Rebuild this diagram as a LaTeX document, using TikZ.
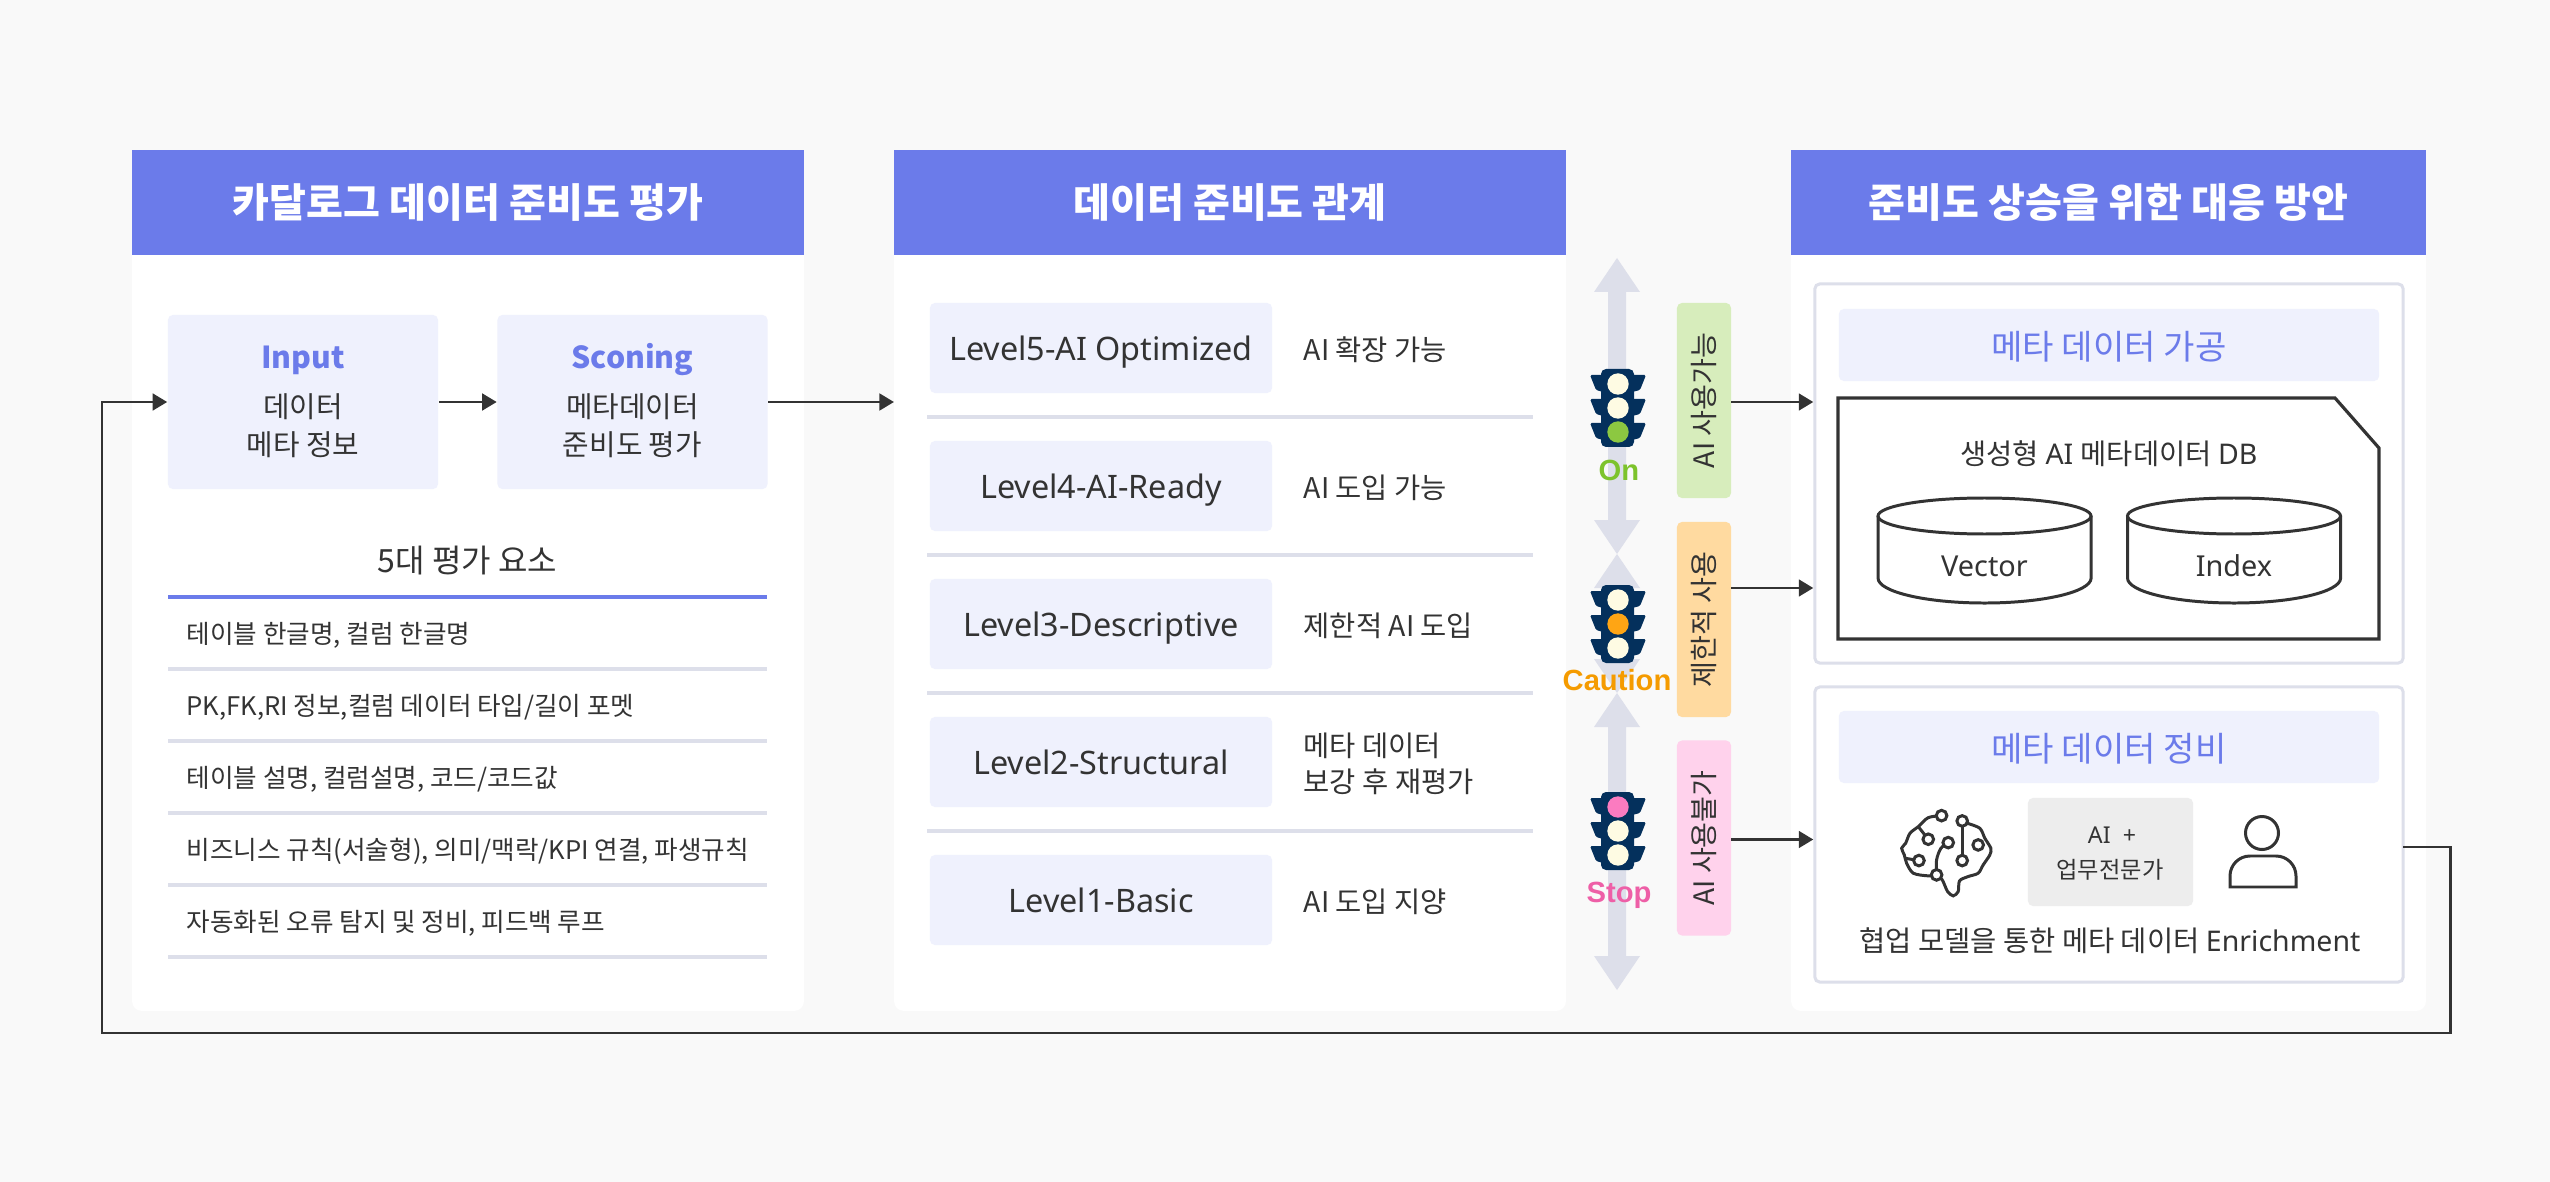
\documentclass[tikz,border=0pt]{standalone}
\usepackage{fontspec}
\setmainfont{Noto Sans CJK KR}
\newfontfamily\latfont{Noto Sans}
\newfontfamily\signfont{Liberation Sans}
\usetikzlibrary{arrows.meta}
\definecolor{pagebg}{HTML}{F9F9F9}
\definecolor{headblue}{HTML}{6B7BEA}
\definecolor{softblue}{HTML}{EFF1FD}
\definecolor{bargray}{HTML}{DDDFEA}
\definecolor{inkgray}{HTML}{333333}
\definecolor{lampoff}{HTML}{FEFBE3}
\definecolor{lampgreen}{HTML}{8CC841}
\definecolor{lamporange}{HTML}{FFA514}
\definecolor{lamppink}{HTML}{FB7BC0}
\definecolor{lightnavy}{HTML}{04305C}
\definecolor{signgreen}{HTML}{7DC32C}
\definecolor{signorange}{HTML}{F59B00}
\definecolor{signpink}{HTML}{EE5FA7}
\definecolor{labelgreen}{HTML}{D7EDBC}
\definecolor{labelorange}{HTML}{FFDAA0}
\definecolor{labelpink}{HTML}{FFD2EC}
\tikzset{
  headbox/.style={fill=headblue, text=white, minimum width=6.72cm, minimum height=1.05cm, inner sep=0pt,
    font=\bfseries\fontsize{11.4}{14}\selectfont},
  softbox/.style={fill=softblue, rounded corners=.05cm, inner sep=0pt},
  bodytxt/.style={text=inkgray, inner sep=0pt, align=center, font=\fontsize{8.2}{10.8}\selectfont},
  bluetxt/.style={text=headblue, inner sep=0pt, text height=6.2pt, text depth=0pt, font=\bfseries\fontsize{8.6}{10}\selectfont},
  itemtxt/.style={text=inkgray, inner sep=0pt, anchor=west, font=\fontsize{7.28}{10}\selectfont},
  lvltxt/.style={softbox, text=inkgray, minimum width=3.42cm, minimum height=.9cm, text height=7pt, text depth=0pt,
    font=\latfont\fontsize{9.2}{10}\selectfont},
  sidetxt/.style={text=inkgray, inner sep=0pt, anchor=west, align=left, font=\fontsize{8.1}{10.2}\selectfont},
  rulebar/.style={draw=bargray, line width=1pt},
  conn/.style={draw=inkgray, line width=.85pt, -{Triangle[length=.145cm,width=.165cm]}},
  signtxt/.style={inner sep=0pt, font=\signfont\bfseries\fontsize{8.3}{10}\selectfont},
  uselabel/.style={rounded corners=.05cm, inner sep=0pt, minimum width=.54cm, minimum height=1.95cm,
    text=inkgray, font=\fontsize{8}{10}\selectfont},
  framebox/.style={draw=bargray, fill=white, line width=.85pt, rounded corners=.05cm, minimum width=5.88cm, inner sep=0pt},
  subhead/.style={softbox, text=headblue, minimum width=5.4cm, minimum height=.72cm, text height=8.3pt, text depth=0pt,
    font=\fontsize{9.7}{12}\selectfont},
  dbtxt/.style={text=inkgray, inner sep=0pt, font=\latfont\fontsize{8.2}{10}\selectfont},
  iconline/.style={draw=inkgray, line width=.85pt},
}
\begin{document}
\begin{tikzpicture}[x=0.01cm,y=-0.01cm]
    \useasboundingbox (0,0) rectangle (2550,1182);
    \fill[pagebg] (0,0) rectangle (2550,1182);

    % panels
    \fill[white, rounded corners=.1cm] (132,240) rectangle (804,1011);
    \fill[white, rounded corners=.1cm] (894,240) rectangle (1566,1011);
    \fill[white, rounded corners=.1cm] (1791,240) rectangle (2426,1011);
    \node[headbox] (headeval) at (468,202.5) {카달로그 데이터 준비도 평가};
    \node[headbox] (headrel) at (1230,202.5) {데이터 준비도 관계};
    \node[headbox, minimum width=6.35cm] (headplan) at (2108.5,202.5) {준비도 상승을 위한 대응 방안};
    \coordinate (midedge) at (894,402);

    % input, scoring
    \node[softbox, minimum width=2.7cm, minimum height=1.74cm] (input) at (303,402) {};
    \node[softbox, minimum width=2.7cm, minimum height=1.74cm] (score) at (632.5,402) {};
    \node[bluetxt] (inputname) at (303,358) {Input};
    \node[bodytxt] (inputtxt) at (303,426) {데이터\\메타 정보};
    \node[bluetxt] (scorename) at (632.5,358) {Sconing};
    \node[bodytxt] (scoretxt) at (632.5,426) {메타데이터\\준비도 평가};
    \draw[conn] (input.east) -- (score.west);
    \draw[conn] (score.east) -- (midedge);

    % five factors
    \node[bodytxt, font=\fontsize{9.1}{10}\selectfont] (factors) at (467.5,561) {5대 평가 요소};
    \draw[headblue, line width=1pt] (168,597) -- (767,597);
    \foreach \i/\ytxt/\txt in {1/633/{테이블 한글명, 컬럼 한글명},
        2/705/{PK,FK,RI 정보,컬럼 데이터 타입/길이 포멧},
        3/777/{테이블 설명, 컬럼설명, 코드/코드값},
        4/849/{비즈니스 규칙(서술형), 의미/맥락/KPI 연결, 파생규칙},
        5/921/{자동화된 오류 탐지 및 정비, 피드백 루프}} {
        \node[itemtxt] (item\i) at (186,\ytxt+2) {\txt};
        \draw[rulebar] (168,\ytxt+36) -- (767,\ytxt+36);
    }

    % levels
    \foreach \i/\ybox/\lvl/\txt in {5/348/Level5-AI Optimized/{AI 확장 가능},
        4/486/Level4-AI-Ready/{AI 도입 가능},
        3/624/Level3-Descriptive/{제한적 AI 도입},
        2/762/Level2-Structural/{메타 데이터\\보강 후 재평가},
        1/900/Level1-Basic/{AI 도입 지양}} {
        \node[lvltxt] (level\i) at (1101,\ybox) {\lvl};
        \node[sidetxt] (levelside\i) at (1303,\ybox+2) {\txt};
    }
    \foreach \yrule in {417,555,693,831}
        \draw[rulebar] (927,\yrule) -- (1533,\yrule);

    % double arrows
    \foreach \ya/\yb in {258/554,554/693,693/990}
        \fill[bargray] (1617,\ya) -- (1640,\ya+34) -- (1626,\ya+34) -- (1626,\yb-34) -- (1640,\yb-34)
            -- (1617,\yb) -- (1594,\yb-34) -- (1608,\yb-34) -- (1608,\ya+34) -- (1594,\ya+34) -- cycle;

    % traffic lights
    \foreach \ly/\lampa/\lampb/\lampc in {369/lampoff/lampoff/lampgreen,
        585/lampoff/lamporange/lampoff, 792/lamppink/lampoff/lampoff} {
        \fill[lightnavy, rounded corners=.05cm] (1601,\ly) rectangle (1634,\ly+78);
        \foreach \d in {0,24,48} {
            \fill[lightnavy, rounded corners=.015cm] (1603,\ly+6+\d) -- (1590,\ly+6+\d) -- (1596,\ly+21+\d) -- (1603,\ly+23+\d) -- cycle;
            \fill[lightnavy, rounded corners=.015cm] (1632,\ly+6+\d) -- (1646,\ly+6+\d) -- (1640,\ly+21+\d) -- (1632,\ly+23+\d) -- cycle;
        }
        \fill[\lampa] (1618,\ly+15) circle[radius=10.7];
        \fill[\lampb] (1618,\ly+39) circle[radius=10.7];
        \fill[\lampc] (1618,\ly+63) circle[radius=10.7];
    }
    \node[signtxt, text=signgreen] (signon) at (1619,470) {On};
    \node[signtxt, text=signorange] (signcaution) at (1617,680) {Caution};
    \node[signtxt, text=signpink] (signstop) at (1619,895) {Stop};

    % use labels
    \node[uselabel, fill=labelgreen] (useon) at (1704,400.5) {\rotatebox{90}{AI 사용가능}};
    \node[uselabel, fill=labelorange] (usecaution) at (1704,619.5) {\rotatebox{90}{제한적 사용}};
    \node[uselabel, fill=labelpink] (usestop) at (1704,838) {\rotatebox{90}{AI 사용불가}};

    % meta processing
    \node[framebox, minimum height=3.79cm] (process) at (2109,473.5) {};
    \node[subhead] (processhead) at (2109,345) {메타 데이터 가공};
    \draw[inkgray, line width=.9pt] (1838,398) -- (2335,398) -- (2379,448) -- (2379,639) -- (1838,639) -- cycle;
    \node[bodytxt, font=\fontsize{8.1}{10}\selectfont] (dbtitle) at (2109,454) {생성형 \latfont AI \normalfont 메타데이터 \latfont DB};
    \foreach \cx/\cname/\ctxt in {1984.5/vector/Vector,2234/index/Index} {
        \draw[iconline] (\cx,516) ellipse[x radius=106.5, y radius=18];
        \draw[iconline] (\cx-106.5,516) -- (\cx-106.5,578) arc[start angle=180, end angle=360, x radius=1.065cm, y radius=.25cm] -- (\cx+106.5,516);
        \node[dbtxt] (\cname) at (\cx,566) {\ctxt};
    }

    % meta cleansing
    \node[framebox, minimum height=2.95cm] (cleanse) at (2109,834.5) {};
    \node[subhead] (cleansehead) at (2109,747) {메타 데이터 정비};
    \node[softbox, fill=black!7, minimum width=1.65cm, minimum height=1.08cm] (expert) at (2110.5,852) {};
    \node[bodytxt, font=\latfont\fontsize{6.6}{9}\selectfont] (expertai) at (2112,835) {AI~ +};
    \node[bodytxt, font=\fontsize{6.6}{9}\selectfont] (experttxt) at (2110,870) {업무전문가};
    \node[bodytxt, font=\fontsize{8.1}{10}\selectfont] (enrich) at (2110,941) {협업 모델을 통한 메타 데이터 \latfont Enrichment};

    % brain icon
    \begin{scope}[shift={(1885,795)},x=0.00333cm,y=-0.00333cm]
        \draw[iconline] plot[smooth] coordinates {(170,62) (130,68) (100,95) (75,115) (62,145) (50,160) (58,180) (65,205) (85,235) (130,243) (155,240)};
        \draw[iconline] (100,95) -- (130,133);
        \draw[iconline] (60,190) -- (102,197);
        \draw[iconline] plot[smooth] coordinates {(155,240) (155,195) (168,160) (190,143)};
        \draw[iconline] (232,78) -- (232,197);
        \draw[iconline] plot[smooth] coordinates {(155,240) (172,255) (188,290) (205,303) (220,290) (224,258) (250,245) (280,235) (295,210) (315,180) (318,160) (300,130) (285,100) (248,85) (232,78)};
        \foreach \bx/\by in {170/62,232/78,130/133,190/143,280/150,102/197,232/197,155/240}
            \draw[iconline, fill=white] (\bx,\by) circle[radius=16];
    \end{scope}

    % person icon
    \draw[iconline] (2262,833) circle[radius=16.5];
    \draw[iconline] (2230,887) -- (2296,887) [rounded corners=.2cm] -- (2296,856) -- (2230,856) [sharp corners] -- cycle;

    % arrows to plan
    \coordinate (onout) at (1731,402);
    \coordinate (cautionout) at (1731,588);
    \coordinate (stopout) at (1731,839.5);
    \draw[conn] (onout) -- (onout -| process.west);
    \draw[conn] (cautionout) -- (cautionout -| process.west);
    \draw[conn] (stopout) -- (stopout -| cleanse.west);

    % feedback
    \coordinate (feedout) at (2403,847);
    \draw[conn] (feedout) -- (2450,847) -- (2450,1033) -- (102,1033) |- (input.west);
\end{tikzpicture}
\end{document}
